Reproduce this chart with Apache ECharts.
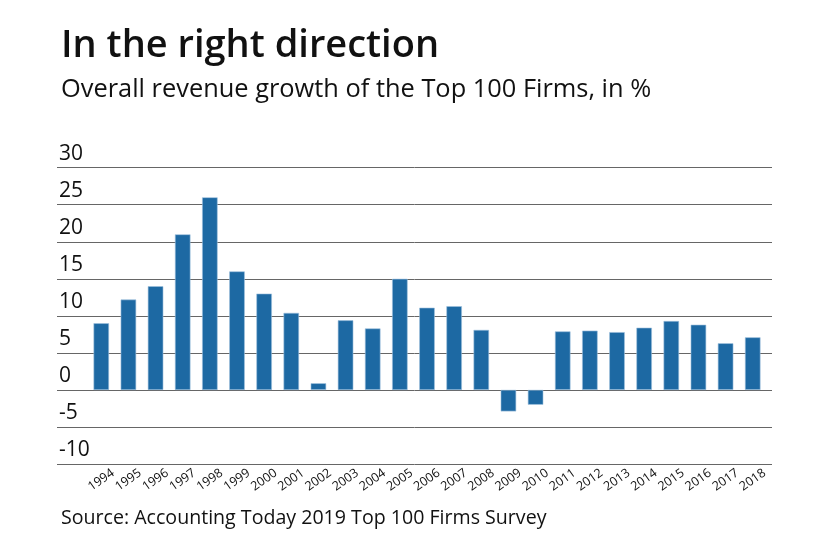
<!DOCTYPE html>
<html>
<head>
<meta charset="utf-8">
<script src="https://cdn.jsdelivr.net/npm/echarts@6/dist/echarts.min.js"></script>
<style>
  html, body { margin: 0; padding: 0; background: #fff; }
  #chart { width: 840px; height: 547px; }
</style>
</head>
<body>
<div id="chart"></div>
<script>
const years = ['1994','1995','1996','1997','1998','1999','2000','2001','2002','2003','2004','2005','2006','2007','2008','2009','2010','2011','2012','2013','2014','2015','2016','2017','2018'];
const growth = [9.0, 12.2, 14.0, 21.0, 26.0, 16.0, 13.0, 10.4, 0.9, 9.4, 8.3, 15.0, 11.1, 11.3, 8.1, -2.9, -2.0, 7.9, 8.0, 7.8, 8.4, 9.3, 8.8, 6.3, 7.1];
const yTicks = { min: -10, max: 30, interval: 5 };
const titleText = 'In the right direction';
const subtitleText = 'Overall revenue growth of the Top 100 Firms, in %';
const sourceText = 'Source: Accounting Today 2019 Top 100 Firms Survey';

const FONT = 'Open Sans';
const chart = echarts.init(document.getElementById('chart'), null, { renderer: 'canvas' });
chart.setOption({
  backgroundColor: '#ffffff',
  animation: false,
  title: [
    { text: titleText, left: 56, top: 22, textStyle: { fontFamily: FONT, fontSize: 38, fontWeight: 600, color: '#111' } },
    { text: subtitleText, left: 56, top: 72, textStyle: { fontFamily: FONT, fontSize: 25.4, fontWeight: 'normal', color: '#111' } },
    { text: sourceText, left: 56, top: 503, textStyle: { fontFamily: FONT, fontSize: 19.6, fontWeight: 'normal', color: '#111' } }
  ],
  grid: [
    { left: 57, right: 68, top: 167.7, bottom: 83, containLabel: false },
    { left: 87.7, right: 73.7, top: 167.7, bottom: 83, containLabel: false }
  ],
  xAxis: [
    { type: 'value', gridIndex: 0, show: false, min: 0, max: 1 },
    {
      type: 'category', gridIndex: 1, data: years, position: 'bottom',
      axisLine: { show: false, onZero: false }, axisTick: { show: false },
      axisLabel: { rotate: 35, interval: 0, margin: 16, align: 'center', verticalAlign: 'middle', fontFamily: FONT, fontSize: 12.5, color: '#111' }
    }
  ],
  yAxis: [
    {
      type: 'value', gridIndex: 0, min: yTicks.min, max: yTicks.max, interval: yTicks.interval,
      axisLine: { show: false }, axisTick: { show: false },
      splitLine: { show: true, lineStyle: { color: '#666', width: 1 } },
      axisLabel: { inside: true, margin: 2, verticalAlign: 'bottom', padding: [0, 0, 3, 0], fontFamily: FONT, fontSize: 21, color: '#111' }
    },
    { type: 'value', gridIndex: 1, min: yTicks.min, max: yTicks.max, interval: yTicks.interval, show: false, splitLine: { show: false } }
  ],
  series: [
    {
      type: 'bar', xAxisIndex: 1, yAxisIndex: 1, data: growth, barWidth: 15.5,
      itemStyle: { color: '#1d69a3', borderColor: '#9fc1dd', borderWidth: 0.6 }
    }
  ]
});
</script>
</body>
</html>
